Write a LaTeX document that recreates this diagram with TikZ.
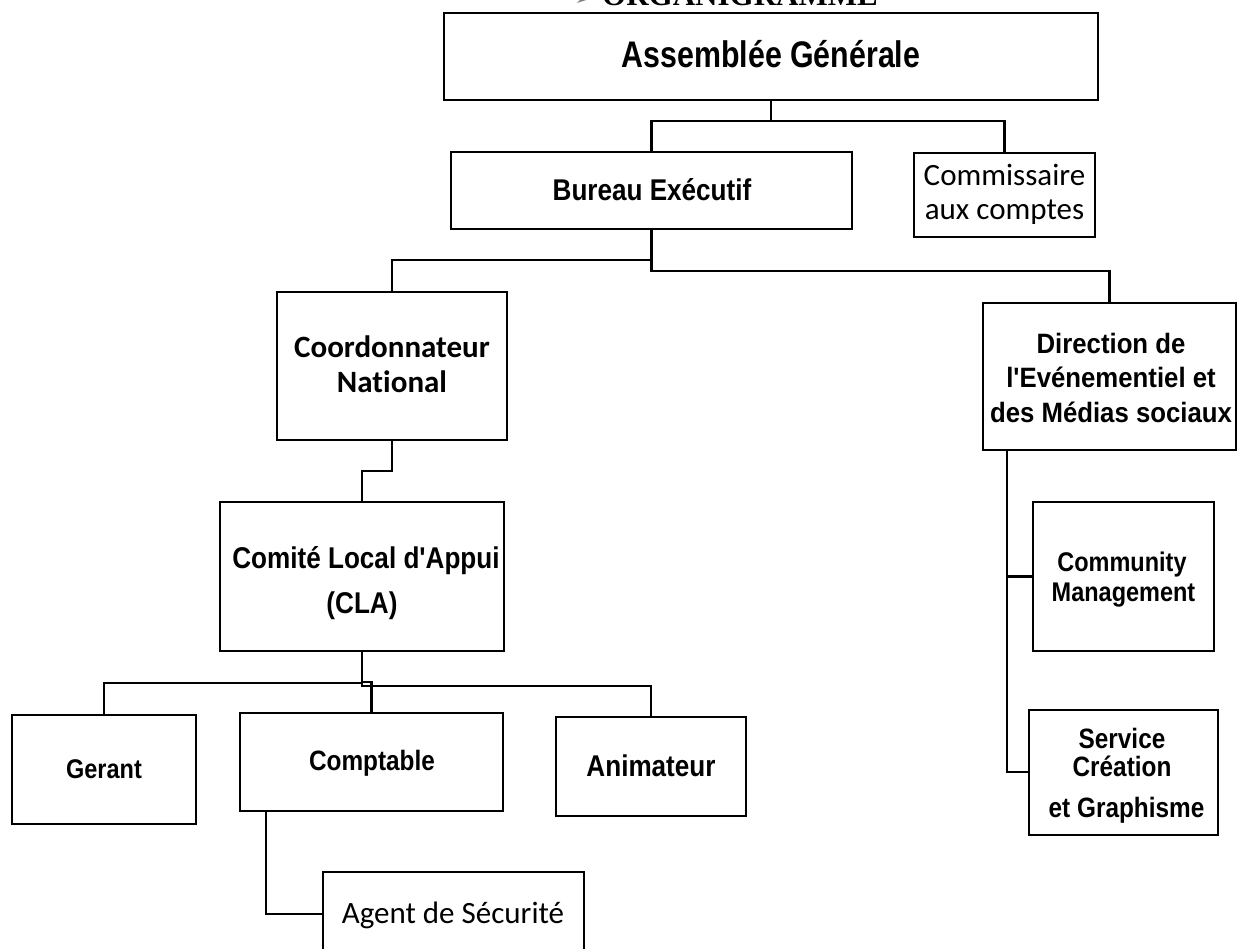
\documentclass[tikz,border=0pt]{standalone}
\usepackage{fontspec}
\setmainfont{Liberation Sans}
\newfontfamily\arN[FakeStretch=0.87,Ligatures=TeXOff]{Liberation Sans}
\newfontfamily\arW[FakeStretch=0.92,Ligatures=TeXOff]{Liberation Sans}
\newfontfamily\arAG[FakeStretch=0.82]{Liberation Sans}
\newfontfamily\calfam[Ligatures=NoCommon]{Carlito}
\newfontfamily\tmsfam{Liberation Serif}
\newfontfamily\dejavufam{DejaVu Sans}
\usetikzlibrary{calc}
\tikzset{
  box/.style={draw, line width=2.6pt, inner sep=0pt, outer sep=0pt},
  conn/.style={line width=2.6pt},
  lbl/.style={anchor=base, inner sep=0pt, outer sep=0pt},
  fA/.style={font=\arN\bfseries\fontsize{#1}{#1}\selectfont},
  fW/.style={font=\arW\bfseries\fontsize{#1}{#1}\selectfont},
  fC/.style={font=\calfam\fontsize{31}{36}\selectfont},
  fCb/.style={font=\calfam\bfseries\fontsize{31}{36}\selectfont},
}
\begin{document}
\begin{tikzpicture}[x=1pt,y={(0pt,-1pt)}]
\useasboundingbox (0,0) rectangle (1238,949);
\clip (0,0) rectangle (1238,949);
\fill[white] (0,0) rectangle (1238,949);

% title (cut off at the top, as in the reference)
\node[lbl, font=\dejavufam\fontsize{20}{24}\selectfont, text=gray] (bullet) at (583,6) {➢};
\node[lbl, font=\tmsfam\bfseries\fontsize{31}{36}\selectfont] (title) at (740,6) {ORGANIGRAMME};

% boxes
\node[box, minimum width=654pt, minimum height=87pt] (ag) at (771,56.5) {};
\node[box, minimum width=401pt, minimum height=77pt] (bureau) at (651.5,190.5) {};
\node[box, minimum width=181pt, minimum height=84pt] (comm) at (1004.5,195) {};
\node[box, minimum width=230pt, minimum height=148pt] (coord) at (392,366) {};
\node[box, minimum width=284pt, minimum height=149pt] (cla) at (362,576.5) {};
\node[box, minimum width=253pt, minimum height=147pt] (dir) at (1109.5,376.5) {};
\node[box, minimum width=181pt, minimum height=149pt] (cm) at (1123.5,576.5) {};
\node[box, minimum width=189pt, minimum height=125pt] (serv) at (1123.5,772.5) {};
\node[box, minimum width=184pt, minimum height=109pt] (gerant) at (104,769.5) {};
\node[box, minimum width=263pt, minimum height=98pt] (compt) at (371.5,762) {};
\node[box, minimum width=190pt, minimum height=99pt] (anim) at (651,766.5) {};
\node[box, minimum width=261pt, minimum height=84pt] (agent) at (453.5,914) {};

% texts
\node[lbl, font=\arAG\bfseries\fontsize{37}{44}\selectfont] (t-ag) at (771,68) {Assemblée Générale};
\node[lbl, fA=30] (t-bur) at (652,201) {Bureau Exécutif};
\node[lbl, fC] (t-com1) at (1004.5,186) {Commissaire};
\node[lbl, fC] (t-com2) at (1004.5,220) {aux comptes};
\node[lbl, fCb] (t-co1) at (392,357) {Coordonnateur};
\node[lbl, fCb] (t-co2) at (392,392) {National};
\node[lbl, fA=30] (t-cla1) at (366,568) {Comité Local d'Appui};
\node[lbl, fA=30] (t-cla2) at (362,613) {(CLA)};
\node[lbl, fW=28] (t-dir1) at (1111,353) {Direction de};
\node[lbl, fW=28] (t-dir2) at (1111,387.5) {l'Evénementiel et};
\node[lbl, fW=28] (t-dir3) at (1111,422) {des Médias sociaux};
\node[lbl, fA=27] (t-cm1) at (1122,571) {Community};
\node[lbl, fA=27] (t-cm2) at (1123.5,601) {Management};
\node[lbl, fA=28] (t-sv1) at (1122,748) {Service};
\node[lbl, fA=28] (t-sv2) at (1122,776) {Création};
\node[lbl, fA=28] (t-sv3) at (1126.5,817) {et Graphisme};
\node[lbl, fA=27] (t-ger) at (104,778) {Gerant};
\node[lbl, fA=28] (t-cpt) at (372,770) {Comptable};
\node[lbl, fA=30] (t-ani) at (651,776) {Animateur};
\node[lbl, fC] (t-agt) at (453,923) {Agent de Sécurité};

% connectors
\draw[conn] (ag.south) -- ++(0,21) -| (bureau.north);
\draw[conn] (ag.south) ++(0,21) -| (comm.north);
\draw[conn] (bureau.south) -- ++(0,31) -| (coord.north);
\draw[conn] (bureau.south) -- ++(0,42) -| (dir.north);
\draw[conn] (coord.south) -- ++(0,31) -| (cla.north);
\draw[conn] (cla.south) -- ++(0,32) -| (gerant.north);
\draw[conn] (cla.south) -- ++(0,35) -| (anim.north);
\draw[conn] (cla.south) ++(0,31) -| (compt.north);
\draw[conn] ($(compt.south west)+(26,0)$) |- (agent.west);
\draw[conn] ($(dir.south west)+(24,0)$) |- (cm.west);
\draw[conn] ($(dir.south west)+(24,0)$) |- ($(serv.north west)+(0,62)$);
\end{tikzpicture}
\end{document}
